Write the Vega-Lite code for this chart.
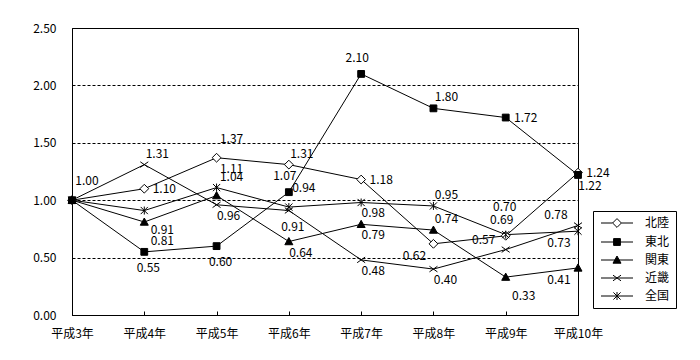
{
  "$schema": "https://vega.github.io/schema/vega-lite/v6.json",
  "width": 506,
  "height": 287,
  "autosize": {"type": "none"},
  "padding": {"left": 72, "top": 28, "right": 122, "bottom": 45},
  "background": "white",
  "config": {
    "view": {"stroke": "black", "strokeWidth": 1},
    "font": "Noto Sans CJK JP",
    "text": {"font": "Noto Sans CJK JP", "fontSize": 12, "color": "black", "baseline": "middle", "align": "center"}
  },
  "resolve": {"scale": {"shape": "independent", "fill": "independent", "stroke": "independent"}},
  "data": {
    "values": [
      {"year": "平成3年", "series": "北陸", "value": 1.00},
      {"year": "平成4年", "series": "北陸", "value": 1.10},
      {"year": "平成5年", "series": "北陸", "value": 1.37},
      {"year": "平成6年", "series": "北陸", "value": 1.31},
      {"year": "平成7年", "series": "北陸", "value": 1.18},
      {"year": "平成8年", "series": "北陸", "value": 0.62},
      {"year": "平成9年", "series": "北陸", "value": 0.69},
      {"year": "平成10年", "series": "北陸", "value": 1.24},
      {"year": "平成3年", "series": "東北", "value": 1.00},
      {"year": "平成4年", "series": "東北", "value": 0.55},
      {"year": "平成5年", "series": "東北", "value": 0.60},
      {"year": "平成6年", "series": "東北", "value": 1.07},
      {"year": "平成7年", "series": "東北", "value": 2.10},
      {"year": "平成8年", "series": "東北", "value": 1.80},
      {"year": "平成9年", "series": "東北", "value": 1.72},
      {"year": "平成10年", "series": "東北", "value": 1.22},
      {"year": "平成3年", "series": "関東", "value": 1.00},
      {"year": "平成4年", "series": "関東", "value": 0.81},
      {"year": "平成5年", "series": "関東", "value": 1.04},
      {"year": "平成6年", "series": "関東", "value": 0.64},
      {"year": "平成7年", "series": "関東", "value": 0.79},
      {"year": "平成8年", "series": "関東", "value": 0.74},
      {"year": "平成9年", "series": "関東", "value": 0.33},
      {"year": "平成10年", "series": "関東", "value": 0.41},
      {"year": "平成3年", "series": "近畿", "value": 1.00},
      {"year": "平成4年", "series": "近畿", "value": 1.31},
      {"year": "平成5年", "series": "近畿", "value": 0.96},
      {"year": "平成6年", "series": "近畿", "value": 0.91},
      {"year": "平成7年", "series": "近畿", "value": 0.48},
      {"year": "平成8年", "series": "近畿", "value": 0.40},
      {"year": "平成9年", "series": "近畿", "value": 0.57},
      {"year": "平成10年", "series": "近畿", "value": 0.78},
      {"year": "平成3年", "series": "全国", "value": 1.00},
      {"year": "平成4年", "series": "全国", "value": 0.91},
      {"year": "平成5年", "series": "全国", "value": 1.11},
      {"year": "平成6年", "series": "全国", "value": 0.94},
      {"year": "平成7年", "series": "全国", "value": 0.98},
      {"year": "平成8年", "series": "全国", "value": 0.95},
      {"year": "平成9年", "series": "全国", "value": 0.70},
      {"year": "平成10年", "series": "全国", "value": 0.73}
    ]
  },
  "encoding": {
    "x": {
      "field": "year",
      "type": "ordinal",
      "sort": ["平成3年", "平成4年", "平成5年", "平成6年", "平成7年", "平成8年", "平成9年", "平成10年"],
      "scale": {"type": "point", "padding": 0},
      "axis": {
        "title": null,
        "labelAngle": 0,
        "labelFontSize": 12,
        "labelColor": "black",
        "domainColor": "black",
        "tickColor": "black",
        "tickSize": -4,
        "labelPadding": 17,
        "grid": false
      }
    },
    "y": {
      "field": "value",
      "type": "quantitative",
      "scale": {"domain": [0, 2.5], "nice": false, "zero": true},
      "axis": {
        "title": null,
        "values": [0, 0.5, 1, 1.5, 2, 2.5],
        "format": ".2f",
        "grid": true,
        "gridColor": "black",
        "gridDash": [3, 2],
        "gridOpacity": 1,
        "ticks": false,
        "domainColor": "black",
        "labelPadding": 16,
        "labelFontSize": 12,
        "labelColor": "black"
      }
    }
  },
  "layer": [
    {
      "mark": {"type": "line", "color": "black", "strokeWidth": 1},
      "encoding": {"detail": {"field": "series", "type": "nominal"}}
    },
    {
      "mark": {"type": "point", "strokeWidth": 1, "opacity": 0, "size": 64},
      "encoding": {
        "shape": {
          "field": "series",
          "type": "nominal",
          "scale": {
            "domain": ["北陸", "東北", "関東", "近畿", "全国"],
            "range": [
              "M-4,0H-1.1M1.1,0H4M0,-1.1L1.1,0L0,1.1L-1.1,0Z",
              "M-4,0H4M-0.85,-0.85H0.85V0.85H-0.85Z",
              "M-4,0H4M0,-1L1,0.8H-1Z",
              "M-4,0H4M-1,-0.7L1,0.7M-1,0.7L1,-0.7",
              "M-4,0H4M-0.9,-0.9L0.9,0.9M-0.9,0.9L0.9,-0.9M0,-1L0,1"
            ]
          },
          "legend": {
            "orient": "none",
            "legendX": 521,
            "legendY": 183,
            "title": null,
            "strokeColor": "black",
            "fillColor": "white",
            "padding": 6,
            "symbolSize": 64,
            "symbolOpacity": 1,
            "symbolStrokeWidth": 1,
            "rowPadding": 6,
            "labelFontSize": 12,
            "labelColor": "black",
            "symbolOffset": 12,
            "labelOffset": 22
          }
        },
        "fill": {
          "field": "series",
          "type": "nominal",
          "scale": {
            "domain": ["北陸", "東北", "関東", "近畿", "全国"],
            "range": ["white", "black", "black", "transparent", "transparent"]
          }
        },
        "stroke": {
          "field": "series",
          "type": "nominal",
          "scale": {
            "domain": ["北陸", "東北", "関東", "近畿", "全国"],
            "range": ["black", "black", "black", "black", "black"]
          }
        }
      }
    },
    {
      "mark": {"type": "point", "stroke": "black", "strokeWidth": 1, "opacity": 1, "size": 64},
      "encoding": {
        "shape": {
          "field": "series",
          "type": "nominal",
          "scale": {
            "domain": ["北陸", "東北", "関東", "近畿", "全国"],
            "range": [
              "M0,-1.1L1.1,0L0,1.1L-1.1,0Z",
              "M-0.85,-0.85H0.85V0.85H-0.85Z",
              "M0,-1L1,0.8H-1Z",
              "M-1,-0.7L1,0.7M-1,0.7L1,-0.7",
              "M-0.9,-0.9L0.9,0.9M-0.9,0.9L0.9,-0.9M0,-1L0,1"
            ]
          },
          "legend": null
        },
        "fill": {
          "condition": {"test": "datum.series === '東北' || datum.series === '関東'", "value": "black"},
          "value": "white"
        }
      }
    },
    {
      "transform": [{"filter": "indexof(['北陸|平成4年','北陸|平成7年','北陸|平成10年','東北|平成9年'], datum.series + '|' + datum.year) >= 0"}],
      "mark": {"type": "text", "dx": 20, "dy": 0},
      "encoding": {"text": {"field": "value", "type": "quantitative", "format": ".2f"}}
    },
    {
      "transform": [{"filter": "indexof(['北陸|平成6年','東北|平成8年','近畿|平成4年','全国|平成8年','関東|平成8年'], datum.series + '|' + datum.year) >= 0"}],
      "mark": {"type": "text", "dx": 13, "dy": -11},
      "encoding": {"text": {"field": "value", "type": "quantitative", "format": ".2f"}}
    },
    {
      "transform": [{"filter": "indexof(['北陸|平成5年','関東|平成5年','全国|平成5年','全国|平成6年','北陸|平成3年'], datum.series + '|' + datum.year) >= 0"}],
      "mark": {"type": "text", "dx": 15, "dy": -19},
      "encoding": {"text": {"field": "value", "type": "quantitative", "format": ".2f"}}
    },
    {
      "transform": [{"filter": "indexof(['関東|平成6年','関東|平成7年','近畿|平成7年','近畿|平成8年','全国|平成7年','近畿|平成5年','東北|平成10年'], datum.series + '|' + datum.year) >= 0"}],
      "mark": {"type": "text", "dx": 12, "dy": 11},
      "encoding": {"text": {"field": "value", "type": "quantitative", "format": ".2f"}}
    },
    {
      "transform": [{"filter": "indexof(['関東|平成4年','全国|平成4年','関東|平成9年'], datum.series + '|' + datum.year) >= 0"}],
      "mark": {"type": "text", "dx": 18, "dy": 19},
      "encoding": {"text": {"field": "value", "type": "quantitative", "format": ".2f"}}
    },
    {
      "transform": [{"filter": "indexof(['東北|平成4年','東北|平成5年','近畿|平成6年'], datum.series + '|' + datum.year) >= 0"}],
      "mark": {"type": "text", "dx": 4, "dy": 16},
      "encoding": {"text": {"field": "value", "type": "quantitative", "format": ".2f"}}
    },
    {
      "transform": [{"filter": "indexof(['東北|平成6年','東北|平成7年','北陸|平成9年'], datum.series + '|' + datum.year) >= 0"}],
      "mark": {"type": "text", "dx": -4, "dy": -16},
      "encoding": {"text": {"field": "value", "type": "quantitative", "format": ".2f"}}
    },
    {
      "transform": [{"filter": "indexof(['全国|平成9年'], datum.series + '|' + datum.year) >= 0"}],
      "mark": {"type": "text", "dx": -1, "dy": -28},
      "encoding": {"text": {"field": "value", "type": "quantitative", "format": ".2f"}}
    },
    {
      "transform": [{"filter": "indexof(['北陸|平成8年','関東|平成10年','全国|平成10年'], datum.series + '|' + datum.year) >= 0"}],
      "mark": {"type": "text", "dx": -19, "dy": 12},
      "encoding": {"text": {"field": "value", "type": "quantitative", "format": ".2f"}}
    },
    {
      "transform": [{"filter": "indexof(['近畿|平成9年','近畿|平成10年'], datum.series + '|' + datum.year) >= 0"}],
      "mark": {"type": "text", "dx": -22, "dy": -10},
      "encoding": {"text": {"field": "value", "type": "quantitative", "format": ".2f"}}
    }
  ]
}
